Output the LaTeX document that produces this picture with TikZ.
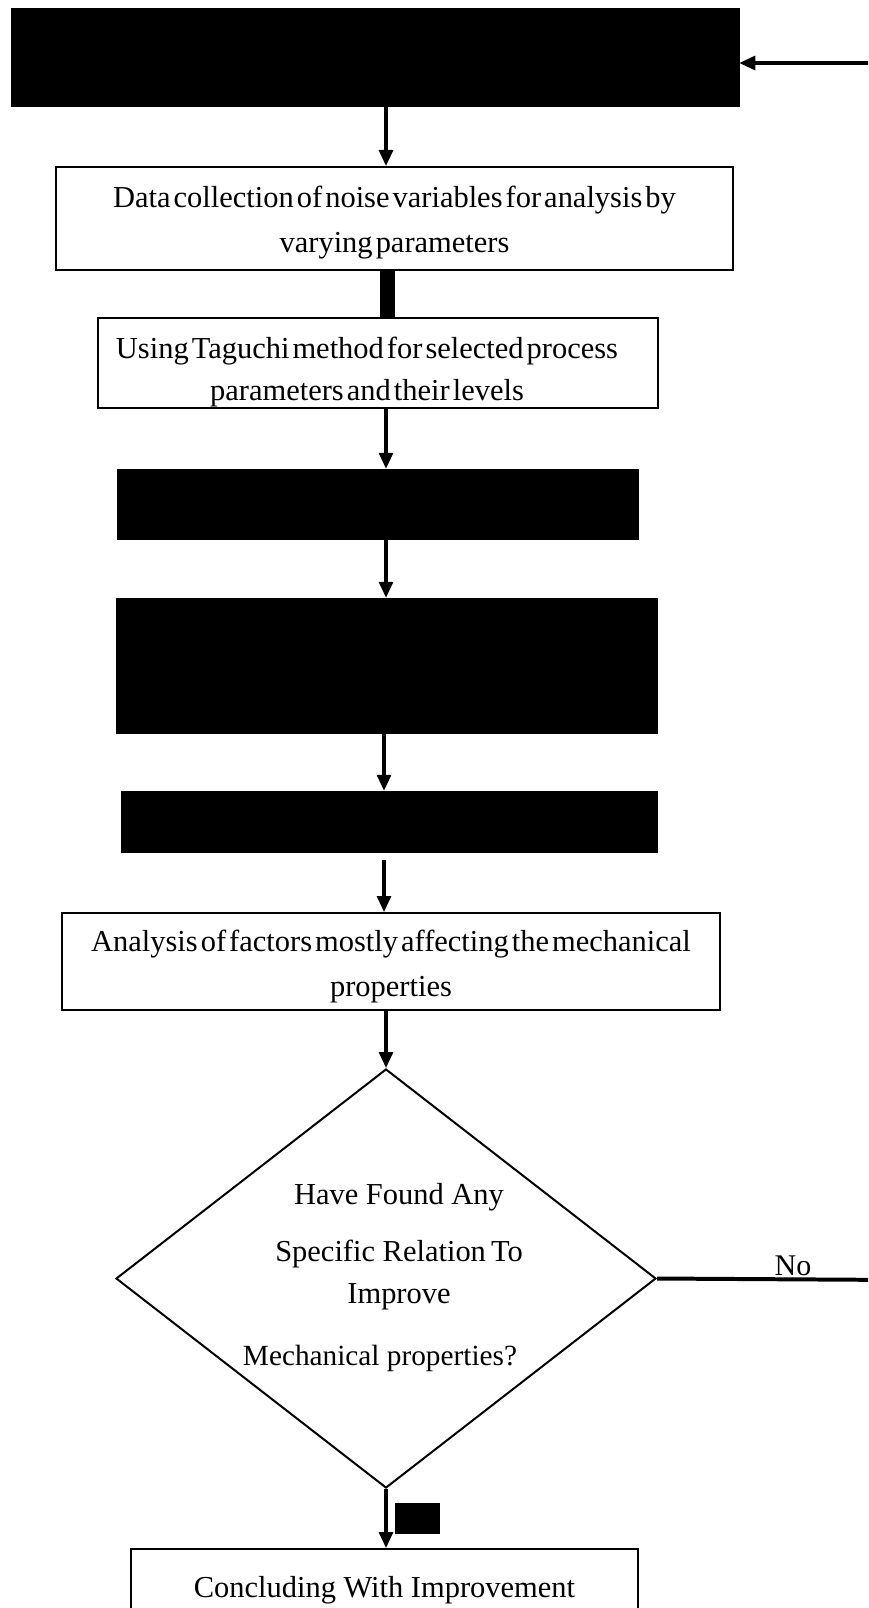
\documentclass[tikz,border=0pt]{standalone}
\usepackage{fontspec}
\setmainfont{Liberation Serif}
\newfontfamily\tightfont[WordSpace=0.4]{Liberation Serif}
\usetikzlibrary{arrows.meta,shapes.geometric}

\begin{document}
\begin{tikzpicture}[x=0.03cm,y=-0.03cm,
    arr/.style={line width=2.6pt,-{Triangle[length=0.48cm,width=0.42cm]}},
    whitebox/.style={draw,line width=1.7pt,inner sep=0pt},
    boxtext/.style={align=center,inner sep=0pt,
        font=\tightfont\fontsize{26}{38.4}\selectfont},
    blackbox/.style={draw,fill=black,inner sep=0pt}]

% Page size of the reference.
\useasboundingbox (0,0) rectangle (868,1608);
\clip (0,0) rectangle (868,1608);

% x of the main arrow line.
\coordinate (spine) at (386,0);

% Boxes, top to bottom.
\node[blackbox,minimum width=21.84cm,minimum height=2.94cm] (topbox) at (375,57) {};
\node[whitebox,minimum width=20.31cm,minimum height=3.09cm] (databox) at (394.5,218.5) {};
\node[boxtext] (datatext) at (394.5,223)
    {Data collection of noise variables for analysis by\\varying parameters};
\node[whitebox,minimum width=16.8cm,minimum height=2.7cm] (taguchibox) at (378,363) {};
\node[boxtext,font=\tightfont\fontsize{26}{36.6}\selectfont] (taguchitext) at (367,372)
    {Using Taguchi method for selected process\\parameters and their levels};
\node[blackbox,minimum width=15.63cm,minimum height=2.1cm] (boxfour) at (377.5,504) {};
\node[blackbox,minimum width=16.23cm,minimum height=4.05cm] (boxfive) at (386.5,665.5) {};
\node[blackbox,minimum width=16.08cm,minimum height=1.83cm] (boxsix) at (389,821.5) {};
\node[whitebox,minimum width=19.74cm,minimum height=2.91cm] (factorbox) at (391,961.5) {};
\node[boxtext] (factortext) at (391,967)
    {Analysis of factors mostly affecting the mechanical\\properties};

% Decision diamond and its text.
\node[draw,diamond,line width=1.7pt,inner sep=0pt,
    minimum width=16.2cm,minimum height=12.57cm] (decide) at (386,1278.5) {};
\node[align=center,inner sep=0pt,font=\fontsize{26}{36}\selectfont] (decidetext) at (399,1247)
    {Have Found Any\\[12.7pt]Specific Relation\,To\\Improve};
\node[inner sep=0pt,font=\fontsize{25}{30}\selectfont] (decidelast) at (380,1358)
    {Mechanical properties?};

% Last box, cut by the page edge.
\node[whitebox,font=\fontsize{26}{30}\selectfont,
    minimum width=15.21cm,minimum height=2.46cm] (concludebox) at (384.5,1590)
    {Concluding With Improvement};

% Arrows down the spine.
\draw[arr] (topbox.south -| spine) -- (databox.north -| spine);
\draw[line width=0.45cm] (databox.south -| 387.5,0) -- (taguchibox.north -| 387.5,0);
\draw[arr] (taguchibox.south -| spine) -- (boxfour.north -| spine);
\draw[arr] (boxfour.south -| spine) -- (boxfive.north -| spine);
\draw[arr] (boxfive.south -| 384,0) -- (boxsix.north -| 384,0);
\draw[arr] ([yshift=-0.24cm]boxsix.south -| 384,0) -- (factorbox.north -| 384,0);
\draw[arr] (factorbox.south -| spine) -- (decide.north);
\draw[arr] (decide.south) -- (concludebox.north -| spine);

% Hidden label beside the lower arrow.
\node[blackbox,minimum width=1.32cm,minimum height=0.9cm] (yeslabel) at (417,1518) {};

% No branch goes back to the top box.
\draw[line width=3.4pt] (decide.east) -- (900,1280) coordinate (loopcorner);
\draw[arr] (loopcorner) |- ([yshift=-0.18cm]topbox.east);
\node[inner sep=0pt,font=\fontsize{25.6}{30}\selectfont] (nolabel) at (793,1266) {No};

\end{tikzpicture}
\end{document}
